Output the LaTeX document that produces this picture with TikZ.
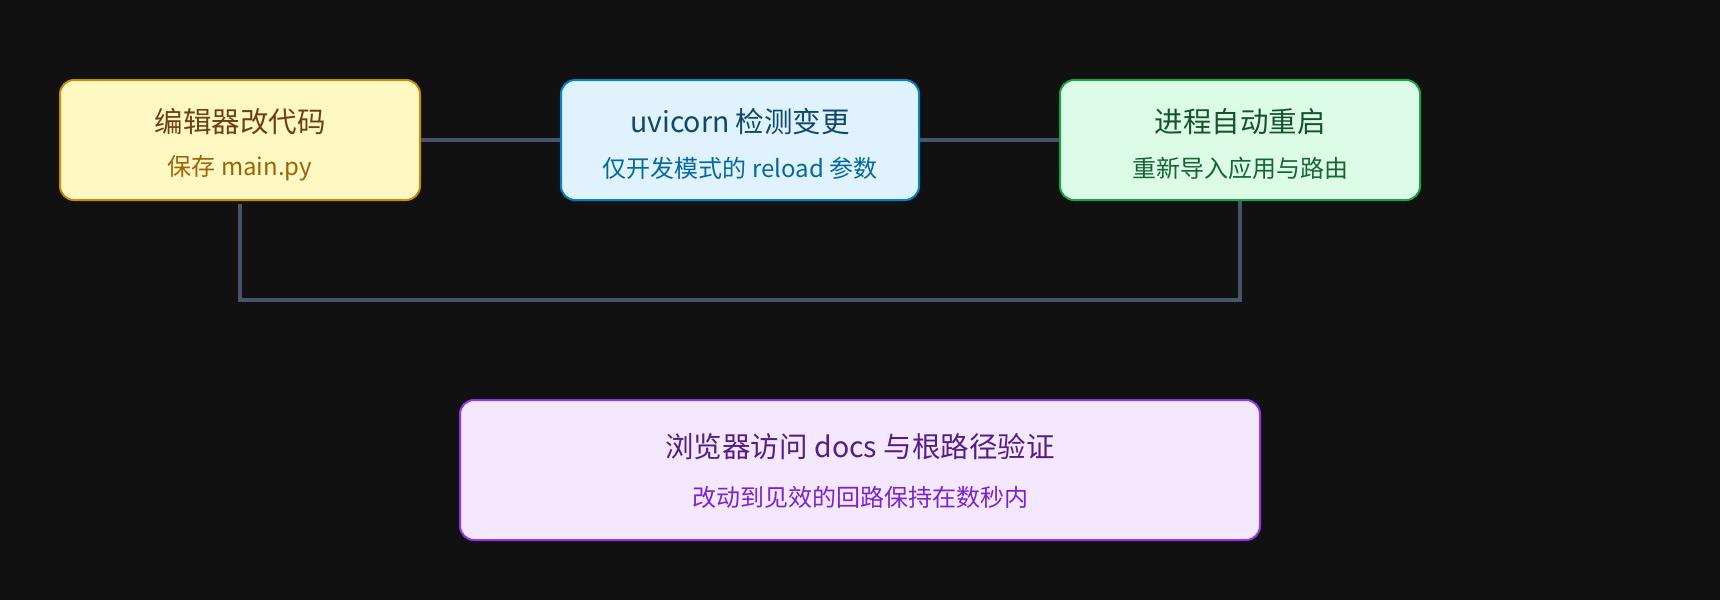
\documentclass[tikz,border=0pt]{standalone}
\usepackage{fontspec}
\setmainfont{Noto Sans CJK SC}
\begin{document}
\begin{tikzpicture}[x=1pt,y=-1pt,
  box/.style={draw, line width=2pt, rounded corners=14pt, inner sep=0pt},
  conn/.style={draw=connc, line width=3.3pt},
  ttl/.style={inner sep=0pt, font=\fontsize{28.5}{32}\selectfont},
  sub/.style={inner sep=0pt, font=\fontsize{24}{28}\selectfont}]
\definecolor{bgc}{HTML}{111111}
\definecolor{connc}{HTML}{475569}
\definecolor{yfill}{HTML}{FEF9C3}\definecolor{ydraw}{HTML}{CA8A04}
\definecolor{yt}{HTML}{713F12}\definecolor{ys}{HTML}{A16207}
\definecolor{bfill}{HTML}{E0F2FE}\definecolor{bdraw}{HTML}{0284C7}
\definecolor{bt}{HTML}{0C4A6E}\definecolor{bs}{HTML}{0369A1}
\definecolor{gfill}{HTML}{DCFCE7}\definecolor{gdraw}{HTML}{16A34A}
\definecolor{gt}{HTML}{14532D}\definecolor{gs}{HTML}{166534}
\definecolor{pfill}{HTML}{F3E8FF}\definecolor{pdraw}{HTML}{9333EA}
\definecolor{pt}{HTML}{581C87}\definecolor{ps}{HTML}{7E22CE}
\useasboundingbox (0,0) rectangle (1720,600);
\fill[bgc] (0,0) rectangle (1720,600);
% boxes
\node[box, fill=yfill, draw=ydraw, minimum width=360pt, minimum height=120pt] (yel) at (240,140) {};
\node[box, fill=bfill, draw=bdraw, minimum width=358pt, minimum height=120pt] (blu) at (740,140) {};
\node[box, fill=gfill, draw=gdraw, minimum width=360pt, minimum height=120pt] (grn) at (1240,140) {};
\node[box, fill=pfill, draw=pdraw, minimum width=800pt, minimum height=140pt] (pur) at (860,470) {};
% texts
\node[ttl, text=yt] (yelt) at (240,122) {编辑器改代码};
\node[sub, text=ys] (yels) at (240,168) {保存 main.py};
\node[ttl, text=bt] (blut) at (740,122) {uvicorn 检测变更};
\node[sub, text=bs] (blus) at (740,168) {仅开发模式的 reload 参数};
\node[ttl, text=gt] (grnt) at (1240,122) {进程自动重启};
\node[sub, text=gs] (grns) at (1240,168) {重新导入应用与路由};
\node[ttl, text=pt] (purt) at (860,447) {浏览器访问 docs 与根路径验证};
\node[sub, text=ps] (purs) at (860,497) {改动到见效的回路保持在数秒内};
% connectors
\coordinate (loopy) at (0,300);
\draw[conn] (yel.east) -- (blu.west);
\draw[conn] (blu.east) -- (grn.west);
\draw[conn] ([yshift=-3pt]yel.south) -- (yel.south |- loopy) -| (grn.south);
\end{tikzpicture}
\end{document}
